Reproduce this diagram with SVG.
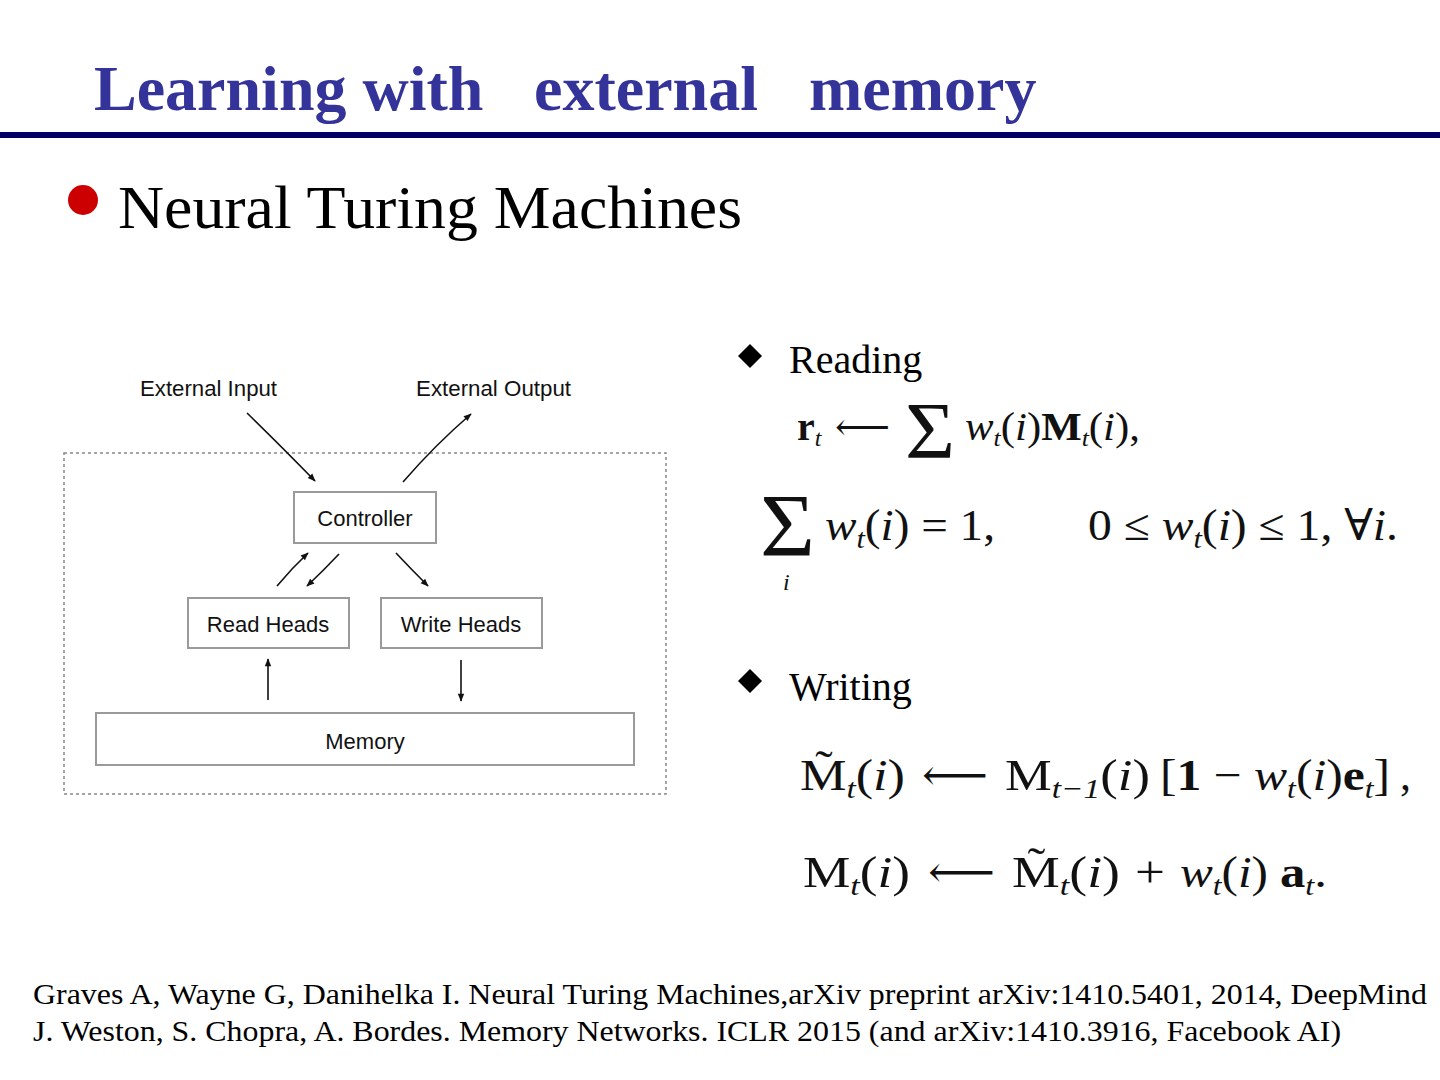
<svg xmlns="http://www.w3.org/2000/svg" width="1440" height="1080" viewBox="0 0 1440 1080">
<defs>
<marker id="ah" viewBox="0 0 10 10" refX="9" refY="5" markerWidth="9" markerHeight="8" orient="auto" markerUnits="userSpaceOnUse">
<path d="M0,1 L10,5 L0,9 Z" fill="#111"/>
</marker>
<style>
.title{font-family:"Liberation Serif",serif;font-weight:bold;font-size:64px;fill:#333399}
.serif{font-family:"Liberation Serif",serif;fill:#000}
.lbl{font-family:"Liberation Sans",Arial,sans-serif;font-size:22px;fill:#111}
.box{fill:#fff;stroke:#9a9a9a;stroke-width:2}
.conn{fill:none;stroke:#111;stroke-width:1.6;marker-end:url(#ah)}
.m{font-family:"Liberation Serif","DejaVu Serif",serif;fill:#111;font-size:44px}
.it{font-style:italic}
.b{font-weight:bold}
.sub{font-size:28px;font-style:italic}
.ref{font-family:"Liberation Serif",serif;font-size:30px;fill:#000}
</style>
</defs>
<rect width="1440" height="1080" fill="#fff"/>
<g id="title">
<text class="title" x="94" y="110">Learning with</text>
<text class="title" x="534" y="110">external</text>
<text class="title" x="809" y="110">memory</text>
<rect x="0" y="132" width="1440" height="6" fill="#000066"/>
</g>
<g id="bullet">
<circle cx="83" cy="200" r="15" fill="#cc0000"/>
<text class="serif" x="118" y="228" font-size="62" textLength="624" lengthAdjust="spacingAndGlyphs">Neural Turing Machines</text>
</g>
<g id="diagram">
<rect x="64" y="453" width="602" height="341" fill="none" stroke="#888" stroke-width="1.5" stroke-dasharray="3,3"/>
<text class="lbl" x="140" y="396" textLength="137" lengthAdjust="spacingAndGlyphs">External Input</text>
<text class="lbl" x="416" y="396" textLength="155" lengthAdjust="spacingAndGlyphs">External Output</text>
<g id="controller"><rect class="box" x="294" y="492" width="142" height="51"/><text class="lbl" x="365" y="526" text-anchor="middle">Controller</text></g>
<g id="readheads"><rect class="box" x="188" y="598" width="161" height="50"/><text class="lbl" x="268" y="632" text-anchor="middle">Read Heads</text></g>
<g id="writeheads"><rect class="box" x="381" y="598" width="161" height="50"/><text class="lbl" x="461" y="632" text-anchor="middle">Write Heads</text></g>
<g id="memory"><rect class="box" x="96" y="713" width="538" height="52"/><text class="lbl" x="365" y="749" text-anchor="middle">Memory</text></g>
<g id="connectors">
<path class="conn" d="M247,413 Q280,445 315,481"/>
<path class="conn" d="M403,482 Q435,445 471,414"/>
<path class="conn" d="M277,586 Q292,568 308,553"/>
<path class="conn" d="M339,554 Q323,571 307,586"/>
<path class="conn" d="M396,553 Q412,570 428,586"/>
<path class="conn" d="M268,700 L268,659"/>
<path class="conn" d="M461,660 L461,701"/>
</g>
</g>
<g id="reading">
<path d="M750,344 L762,356 L750,368 L738,356 Z" fill="#000"/>
<text class="serif" x="789" y="373" font-size="40">Reading</text>
<text class="m" style="font-size:40px" y="440"><tspan x="797" class="b">r</tspan><tspan class="sub" style="font-size:24px" dy="6">t</tspan></text>
<text class="m" style="font-size:38px" x="835" y="440" textLength="55" lengthAdjust="spacingAndGlyphs">⟵</text>
<text class="m" x="905" y="458" style="font-size:80px" textLength="50" lengthAdjust="spacingAndGlyphs">Σ</text>
<text class="m" style="font-size:40px" y="440" x="965" textLength="175" lengthAdjust="spacingAndGlyphs"><tspan class="it">w</tspan><tspan class="sub" style="font-size:24px" dy="6">t</tspan><tspan dy="-6">(</tspan><tspan class="it">i</tspan><tspan>)</tspan><tspan class="b">M</tspan><tspan class="sub" style="font-size:24px" dy="6">t</tspan><tspan dy="-6">(</tspan><tspan class="it">i</tspan><tspan>),</tspan></text>
<text class="m" x="760" y="555" style="font-size:88px" textLength="55" lengthAdjust="spacingAndGlyphs">Σ</text>
<text class="m it" x="783" y="590" style="font-size:24px">i</text>
<text class="m" y="540" x="825" textLength="170" lengthAdjust="spacingAndGlyphs"><tspan class="it">w</tspan><tspan class="sub" dy="8">t</tspan><tspan dy="-8">(</tspan><tspan class="it">i</tspan><tspan>) = 1,</tspan></text>
<text class="m" y="540" x="1088" textLength="310" lengthAdjust="spacingAndGlyphs"><tspan>0 ≤ </tspan><tspan class="it">w</tspan><tspan class="sub" dy="8">t</tspan><tspan dy="-8">(</tspan><tspan class="it">i</tspan><tspan>) ≤ 1, ∀</tspan><tspan class="it">i</tspan><tspan>.</tspan></text>
</g>
<g id="writing">
<path d="M750,669 L762,681 L750,693 L738,681 Z" fill="#000"/>
<text class="serif" x="789" y="700" font-size="40">Writing</text>
<text class="m" y="790" x="800" textLength="105" lengthAdjust="spacingAndGlyphs"><tspan>M̃</tspan><tspan class="sub" dy="8">t</tspan><tspan dy="-8">(</tspan><tspan class="it">i</tspan><tspan>)</tspan></text>
<text class="m" y="790" x="922" textLength="66" lengthAdjust="spacingAndGlyphs">⟵</text>
<text class="m" y="790" x="1005" textLength="145" lengthAdjust="spacingAndGlyphs"><tspan>M</tspan><tspan class="sub" dy="8">t−1</tspan><tspan dy="-8">(</tspan><tspan class="it">i</tspan><tspan>)</tspan></text>
<text class="m" y="790" x="1160" textLength="230" lengthAdjust="spacingAndGlyphs"><tspan>[</tspan><tspan class="b">1</tspan><tspan> − </tspan><tspan class="it">w</tspan><tspan class="sub" dy="8">t</tspan><tspan dy="-8">(</tspan><tspan class="it">i</tspan><tspan>)</tspan><tspan class="b">e</tspan><tspan class="sub" dy="8">t</tspan><tspan dy="-8">]</tspan></text>
<text class="m" y="790" x="1400">,</text>
<text class="m" y="887" x="803" textLength="107" lengthAdjust="spacingAndGlyphs"><tspan>M</tspan><tspan class="sub" dy="8">t</tspan><tspan dy="-8">(</tspan><tspan class="it">i</tspan><tspan>)</tspan></text>
<text class="m" y="887" x="928" textLength="67" lengthAdjust="spacingAndGlyphs">⟵</text>
<text class="m" y="887" x="1012" textLength="108" lengthAdjust="spacingAndGlyphs"><tspan>M̃</tspan><tspan class="sub" dy="8">t</tspan><tspan dy="-8">(</tspan><tspan class="it">i</tspan><tspan>)</tspan></text>
<text class="m" y="887" x="1135" textLength="30" lengthAdjust="spacingAndGlyphs">+</text>
<text class="m" y="887" x="1180" textLength="88" lengthAdjust="spacingAndGlyphs"><tspan class="it">w</tspan><tspan class="sub" dy="8">t</tspan><tspan dy="-8">(</tspan><tspan class="it">i</tspan><tspan>)</tspan></text>
<text class="m" y="887" x="1280" textLength="47" lengthAdjust="spacingAndGlyphs"><tspan class="b">a</tspan><tspan class="sub" dy="8">t</tspan><tspan dy="-8">.</tspan></text>
</g>
<g id="references">
<text class="ref" x="33" y="1004" textLength="1394" lengthAdjust="spacingAndGlyphs">Graves A, Wayne G, Danihelka I. Neural Turing Machines,arXiv preprint arXiv:1410.5401, 2014, DeepMind</text>
<text class="ref" x="33" y="1041" textLength="1308" lengthAdjust="spacingAndGlyphs">J. Weston, S. Chopra, A. Bordes. Memory Networks. ICLR 2015 (and arXiv:1410.3916, Facebook AI)</text>
</g>
</svg>
